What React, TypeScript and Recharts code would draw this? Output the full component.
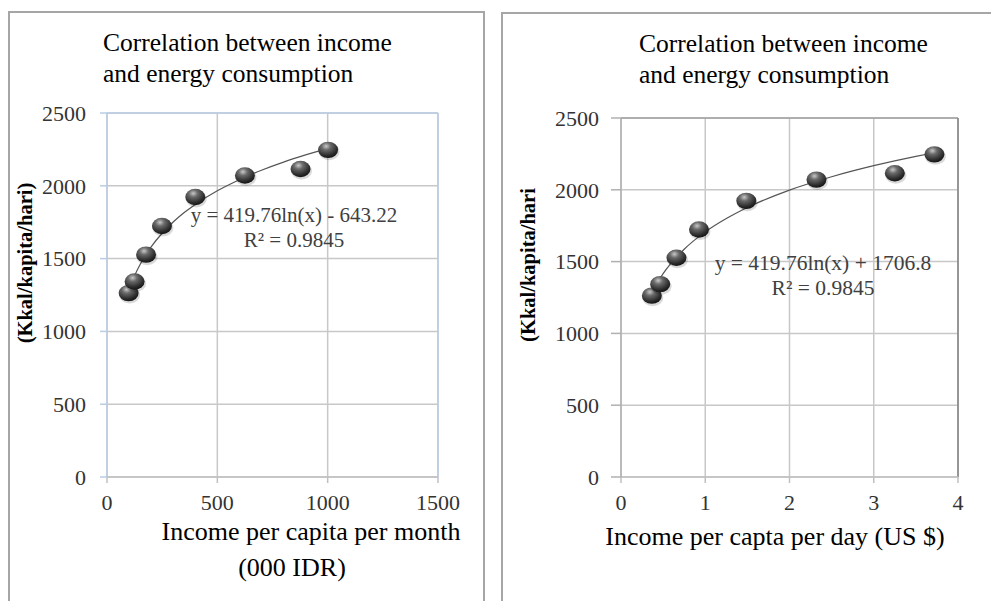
import React from 'react';
import { ComposedChart, Scatter, Line, XAxis, YAxis, CartesianGrid, ReferenceLine } from 'recharts';

// energy consumption (Kkal/kapita/hari) per income group
const energy = [1263, 1343, 1527, 1724, 1923, 2071, 2115, 2247];
// income per capita per month (000 IDR)
const incomeMonth = [98, 125, 177, 249, 400, 625, 877, 1002];
// income per capita per day (US $)
const incomeDay = [0.366, 0.465, 0.658, 0.926, 1.487, 2.32, 3.25, 3.72];

// log trendline
const trendMonthX = [98, 125, 150, 175, 200, 250, 300, 350, 400, 500, 600, 700, 800, 900, 1002];
const trendMonthY = [1281, 1383, 1460, 1525, 1581, 1674, 1751, 1816, 1872, 1966, 2042, 2107, 2163, 2212, 2257];
const trendDayX = [0.366, 0.5, 0.75, 1, 1.25, 1.5, 2, 2.5, 3, 3.5, 3.72];
const trendDayY = [1285, 1416, 1586, 1707, 1800, 1877, 1998, 2091, 2168, 2233, 2258];

const yTicks = [0, 500, 1000, 1500, 2000, 2500];
const monthTicks = [0, 500, 1000, 1500];
const dayTicks = [0, 1, 2, 3, 4];

const titleLines = ['Correlation between income', 'and energy consumption'];
const yLabel = '(Kkal/kapita/hari)';

const serif = '"Liberation Serif", "Times New Roman", serif';

const zip = (xs: number[], ys: number[]) => xs.map((x, i) => ({ x, y: ys[i] }));

const Ball = (props: any) => {
  const { cx, cy, index } = props;
  if (cx == null || cy == null) return null;
  const id = `ball-${props.gid}-${index}`;
  return (
    <g>
      <defs>
        <radialGradient id={id} cx="40%" cy="28%" r="75%">
          <stop offset="0%" stopColor="#c8c8c8" />
          <stop offset="30%" stopColor="#6a6a6a" />
          <stop offset="75%" stopColor="#2c2c2c" />
          <stop offset="100%" stopColor="#111" />
        </radialGradient>
      </defs>
      <ellipse cx={cx + 1} cy={cy + 2} rx={10.5} ry={8.5} fill="#000" opacity={0.15} />
      <ellipse cx={cx} cy={cy} rx={10} ry={8.2} fill={`url(#${id})`} />
    </g>
  );
};

const tickStyle = { fill: '#333', fontSize: 22, fontFamily: serif };

const abs = (left: number, top: number, extra: any = {}) => ({
  position: 'absolute' as const,
  left,
  top,
  fontFamily: serif,
  whiteSpace: 'nowrap' as const,
  ...extra,
});

export default function App() {
  const monthPts = zip(incomeMonth, energy);
  const dayPts = zip(incomeDay, energy);
  const monthTrend = zip(trendMonthX, trendMonthY);
  const dayTrend = zip(trendDayX, trendDayY);

  return (
    <div style={{ position: 'absolute', left: 0, top: 0, width: 991, height: 601, overflow: 'hidden', background: '#fff' }}>
      {/* panel frames */}
      <div style={{ position: 'absolute', left: 8, top: 11, width: 473, height: 620, border: '2px solid #a6a6a6' }} />
      <div style={{ position: 'absolute', left: 501, top: 12, width: 520, height: 620, border: '2px solid #a6a6a6' }} />

      {/* left chart */}
      <div style={{ position: 'absolute', left: 0, top: 0 }}>
        <ComposedChart width={491} height={601} margin={{ top: 113, right: 53, bottom: 94, left: 47 }}>
          <CartesianGrid stroke="#c8c8c8" strokeWidth={1.5} />
          <XAxis
            type="number"
            dataKey="x"
            domain={[0, 1500]}
            ticks={monthTicks}
            height={30}
            tick={tickStyle}
            tickSize={6}
            tickMargin={11}
            stroke="#c0c0c0"
            strokeWidth={1.5}
          />
          <YAxis
            type="number"
            dataKey="y"
            domain={[0, 2500]}
            ticks={yTicks}
            width={60}
            tick={tickStyle}
            tickSize={7}
            tickMargin={14}
            stroke="#b8cce4"
            strokeWidth={1.5}
          />
          <ReferenceLine y={2500} stroke="#b8cce4" strokeWidth={1.5} />
          <ReferenceLine x={1500} stroke="#b8cce4" strokeWidth={1.5} />
          <Line
            data={monthTrend}
            dataKey="y"
            type="monotone"
            stroke="#555"
            strokeWidth={1.2}
            dot={false}
            activeDot={false}
            isAnimationActive={false}
          />
          <Scatter data={monthPts} shape={(p: any) => <Ball {...p} gid="m" />} isAnimationActive={false} />
        </ComposedChart>
      </div>

      {/* right chart */}
      <div style={{ position: 'absolute', left: 491, top: 0 }}>
        <ComposedChart width={500} height={601} margin={{ top: 118, right: 33, bottom: 94, left: 70 }}>
          <CartesianGrid stroke="#c8c8c8" strokeWidth={1.5} />
          <XAxis
            type="number"
            dataKey="x"
            domain={[0, 4]}
            ticks={dayTicks}
            height={30}
            tick={tickStyle}
            tickSize={6}
            tickMargin={11}
            stroke="#c0c0c0"
            strokeWidth={1.5}
          />
          <YAxis
            type="number"
            dataKey="y"
            domain={[0, 2500]}
            ticks={yTicks}
            width={60}
            tick={tickStyle}
            tickSize={10}
            tickMargin={12}
            stroke="#b0b0b0"
            strokeWidth={1.5}
          />
          <ReferenceLine y={2500} stroke="#a0a0a0" strokeWidth={1.5} />
          <ReferenceLine x={4} stroke="#808080" strokeWidth={1.5} />
          <Line
            data={dayTrend}
            dataKey="y"
            type="monotone"
            stroke="#555"
            strokeWidth={1.2}
            dot={false}
            activeDot={false}
            isAnimationActive={false}
          />
          <Scatter data={dayPts} shape={(p: any) => <Ball {...p} gid="d" />} isAnimationActive={false} />
        </ComposedChart>
      </div>

      {/* titles */}
      <div style={abs(103, 27, { fontSize: 25.5, lineHeight: '31px', color: '#000' })}>
        {titleLines.map((t) => (
          <div key={t}>{t}</div>
        ))}
      </div>
      <div style={abs(639, 28, { fontSize: 25.5, lineHeight: '31px', color: '#000' })}>
        {titleLines.map((t) => (
          <div key={t}>{t}</div>
        ))}
      </div>

      {/* y axis titles */}
      <div style={abs(25, 263, { fontSize: 20.5, fontWeight: 'bold', transform: 'translate(-50%, -50%) rotate(-90deg)', color: '#000' })}>
        {yLabel}
      </div>
      <div style={abs(528, 265, { fontSize: 20.5, fontWeight: 'bold', transform: 'translate(-50%, -50%) rotate(-90deg)', color: '#000' })}>
        {yLabel.slice(0, -1)}
      </div>

      {/* x axis titles */}
      <div style={abs(311, 532, { fontSize: 26, transform: 'translate(-50%, -50%)', color: '#000' })}>
        Income per capita per month
      </div>
      <div style={abs(292, 568, { fontSize: 26, transform: 'translate(-50%, -50%)', color: '#000' })}>
        (000 IDR)
      </div>
      <div style={abs(775, 537, { fontSize: 26, transform: 'translate(-50%, -50%)', color: '#000' })}>
        Income per capta per day (US $)
      </div>

      {/* trendline equations */}
      <div style={abs(294, 203, { fontSize: 21, lineHeight: '25px', textAlign: 'center', transform: 'translateX(-50%)', color: '#404040' })}>
        <div>y = 419.76ln(x) - 643.22</div>
        <div>R² = 0.9845</div>
      </div>
      <div style={abs(823, 251, { fontSize: 21.5, lineHeight: '25px', textAlign: 'center', transform: 'translateX(-50%)', color: '#404040' })}>
        <div>y = 419.76ln(x) + 1706.8</div>
        <div>R² = 0.9845</div>
      </div>
    </div>
  );
}
